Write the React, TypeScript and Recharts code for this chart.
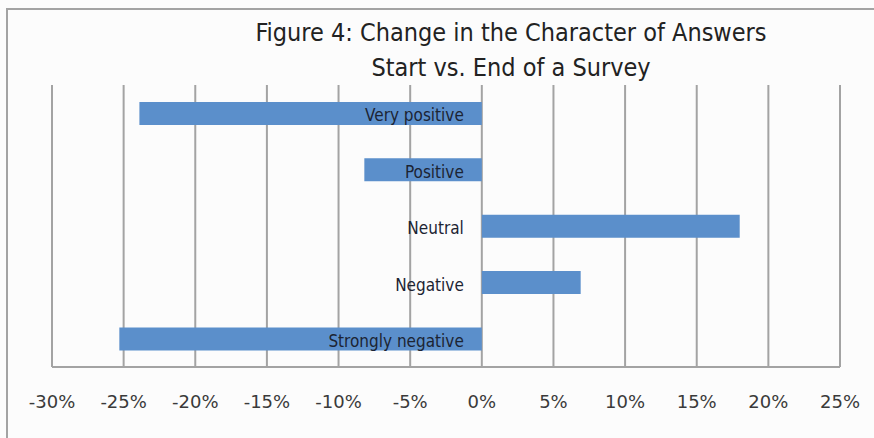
import React from 'react';
import { BarChart, Bar, XAxis, YAxis, CartesianGrid, LabelList } from 'recharts';

const categories = ['Very positive', 'Positive', 'Neutral', 'Negative', 'Strongly negative'];
const changes = [-23.9, -8.2, 18.0, 6.9, -25.3];
const ticks = [-30, -25, -20, -15, -10, -5, 0, 5, 10, 15, 20, 25];

const data = categories.map((name, i) => ({ name, value: changes[i] }));

const BAR_COLOR = '#5b8fcb';
const GRID_COLOR = '#a3a3a3';

// category name sits just left of the zero line, whichever way the bar goes
const CategoryLabel = (props: any) => {
  const { x, y, width, height, value, index } = props;
  const v = changes[index];
  const zeroX = v >= 0 ? Math.min(x, x + width) : Math.max(x, x + width);
  return (
    <text
      x={zeroX - 18}
      y={y + height / 2 + 2}
      textAnchor="end"
      dominantBaseline="central"
      fontFamily="'DejaVu Sans Condensed', 'DejaVu Sans', sans-serif"
      fontSize={17}
      fill="#1c2433"
    >
      {value}
    </text>
  );
};

export default function App() {
  return (
    <div style={{ position: 'absolute', left: 0, top: 0, width: 874, height: 438, background: '#fcfcfc', overflow: 'hidden' }}>
      <div
        style={{
          position: 'absolute',
          left: 6,
          top: 8,
          width: 1000,
          height: 600,
          borderTop: `2px solid ${GRID_COLOR}`,
          borderLeft: `2px solid ${GRID_COLOR}`,
        }}
      />
      <div
        style={{
          position: 'absolute',
          left: 0,
          top: 15,
          width: 1022,
          textAlign: 'center',
          fontFamily: "'DejaVu Sans Condensed', 'DejaVu Sans', sans-serif",
          fontSize: 25,
          lineHeight: '35px',
          color: '#222',
        }}
      >
        <div>Figure 4: Change in the Character of Answers</div>
        <div>Start vs. End of a Survey</div>
      </div>
      <div style={{ position: 'absolute', left: 0, top: 0 }}>
        <BarChart
          width={874}
          height={438}
          data={data}
          layout="vertical"
          margin={{ top: 85, right: 34, bottom: 0, left: 52 }}
          barCategoryGap="30%"
        >
          <CartesianGrid horizontal={false} stroke={GRID_COLOR} strokeWidth={2} />
          <XAxis
            type="number"
            domain={[-30, 25]}
            ticks={ticks}
            tickFormatter={(v: number) => `${v}%`}
            axisLine={{ stroke: GRID_COLOR, strokeWidth: 2 }}
            tickLine={false}
            tick={{ fill: '#3a3a3a', fontSize: 18, fontFamily: "'DejaVu Sans', sans-serif" }}
            tickMargin={22}
            height={71}
          />
          <YAxis type="category" dataKey="name" hide width={0} />
          <Bar dataKey="value" fill={BAR_COLOR} isAnimationActive={false}>
            <LabelList dataKey="name" content={<CategoryLabel />} />
          </Bar>
        </BarChart>
      </div>
    </div>
  );
}
